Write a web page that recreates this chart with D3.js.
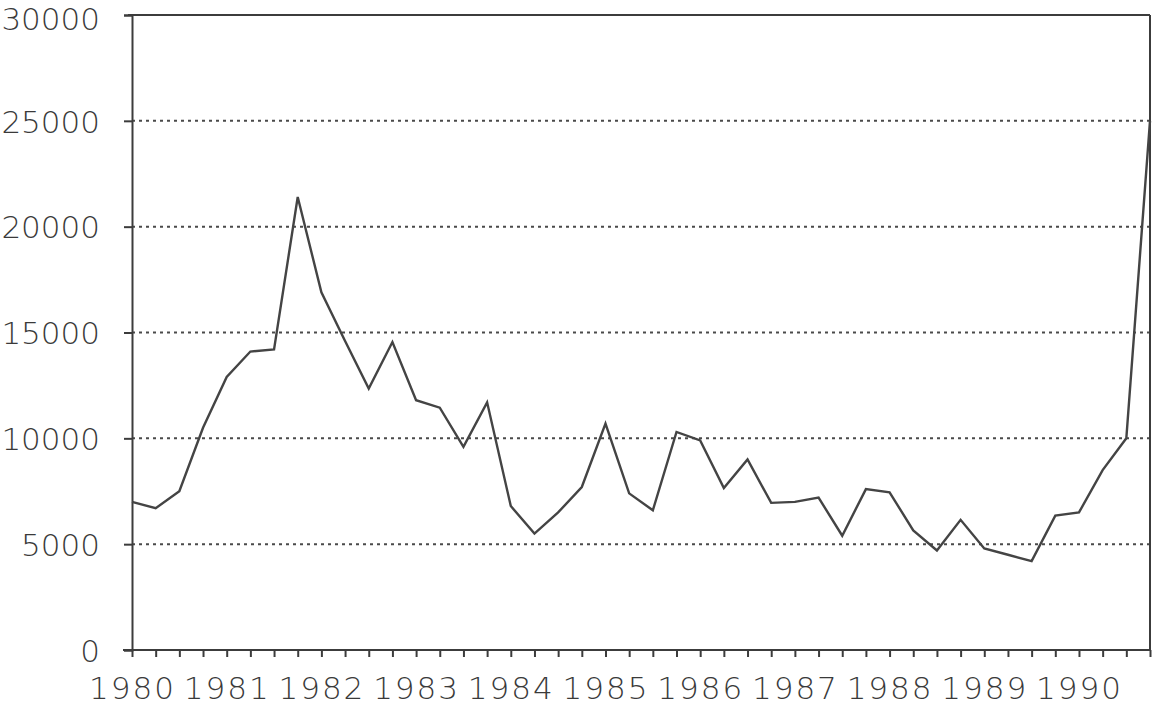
<!DOCTYPE html>
<html>
<head>
<meta charset="utf-8">
<script src="https://cdn.jsdelivr.net/npm/d3@7"></script>
<style>
  html, body { margin: 0; padding: 0; background: #fff; }
  svg { display: block; }
  .lbl { font-family: "DejaVu Sans", sans-serif; font-size: 31px; fill: #3a3a3a; font-weight: 300; }
  .xl { letter-spacing: 2px; }
</style>
</head>
<body>
<svg id="chart" width="1154" height="708"></svg>
<script>
// Quarterly series 1980 Q1 .. 1990 Q4
const quarters = d3.range(44).map(i => (1980 + Math.floor(i / 4)) + " Q" + (i % 4 + 1));
const values = [
  7000, 6700, 7500, 10500, 12900, 14100, 14200, 21400,
  16900, 14600, 12350, 14550, 11800, 11450, 9600, 11700,
  6800, 5500, 6500, 7700, 10700, 7400, 6600, 10300,
  9900, 7650, 9000, 6950, 7000, 7200, 5400, 7600,
  7450, 5650, 4700, 6150, 4800, 4500, 4200, 6350,
  6500, 8500, 10000, 25000
];
const yearLabels = ["1980","1981","1982","1983","1984","1985","1986","1987","1988","1989","1990"];
const yTicks = [0, 5000, 10000, 15000, 20000, 25000, 30000];

const svg = d3.select("#chart");
const mLeft = 132, mRight = 1150, mTop = 15, mBottom = 650;
const ink = "#3c3c3c";

const x = d3.scaleLinear().domain([0, quarters.length - 1]).range([mLeft, mRight]);
const y = d3.scaleLinear().domain([0, 30000]).range([mBottom, mTop]);

// dotted gridlines
svg.append("g").selectAll("line").data(yTicks.filter(v => v > 0 && v < 30000)).join("line")
  .attr("x1", mLeft).attr("x2", mRight)
  .attr("y1", d => y(d)).attr("y2", d => y(d))
  .attr("stroke", "#4a4a4a").attr("stroke-width", 2)
  .attr("stroke-dasharray", "3,4");

// frame: top and right border
svg.append("line").attr("x1", mLeft - 4).attr("x2", mRight).attr("y1", mTop).attr("y2", mTop)
  .attr("stroke", ink).attr("stroke-width", 2);
svg.append("line").attr("x1", mRight).attr("x2", mRight).attr("y1", mTop).attr("y2", mBottom)
  .attr("stroke", ink).attr("stroke-width", 2);

// y axis
const yAxis = d3.axisLeft(y).tickValues(yTicks).tickSize(8).tickPadding(24)
  .tickFormat(d3.format("d"));
const gy = svg.append("g").attr("transform", `translate(${mLeft},0)`).call(yAxis);
gy.select(".domain").attr("stroke", ink).attr("stroke-width", 2);
gy.selectAll(".tick line").attr("stroke", ink).attr("stroke-width", 2);
gy.selectAll(".tick text").attr("class", "lbl").attr("dy", d => d === 30000 ? "0.46em" : "0.36em");

// x axis: quarterly ticks, year labels every 4th
const xAxis = d3.axisBottom(x).tickValues(d3.range(quarters.length)).tickSize(7).tickPadding(20)
  .tickFormat(i => i % 4 === 0 ? yearLabels[i / 4] : "");
const gx = svg.append("g").attr("transform", `translate(0,${mBottom})`).call(xAxis);
gx.select(".domain").attr("stroke", ink).attr("stroke-width", 2)
  .attr("d", `M${mLeft - 9},0H${mRight}`);
gx.selectAll(".tick line").attr("stroke", ink).attr("stroke-width", 2);
gx.selectAll(".tick text").attr("class", "lbl xl").attr("dy", "0.72em");

// data line
const line = d3.line().x((d, i) => x(i)).y(d => y(d));
svg.append("path").datum(values)
  .attr("d", line)
  .attr("fill", "none")
  .attr("stroke", "#444")
  .attr("stroke-width", 2.4)
  .attr("stroke-linejoin", "miter");
</script>
</body>
</html>
